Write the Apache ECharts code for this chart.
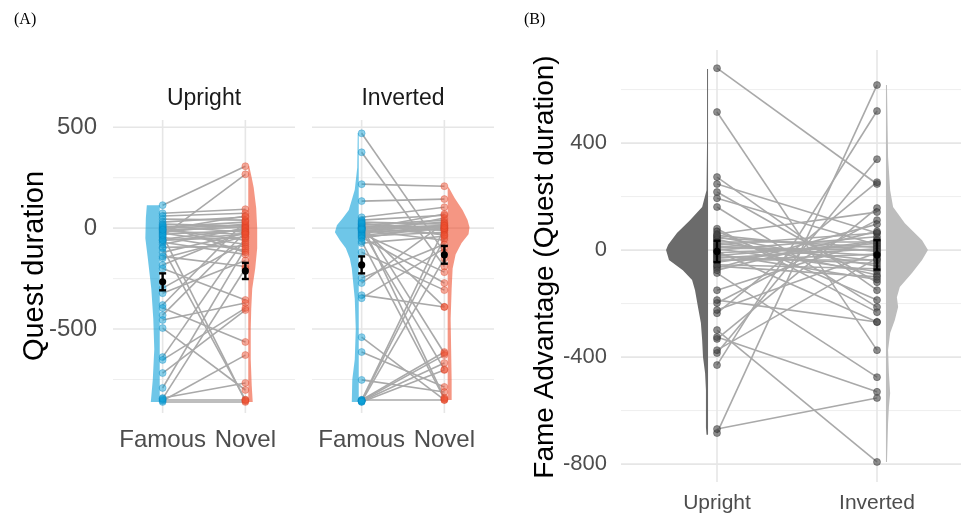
<!DOCTYPE html>
<html>
<head>
<meta charset="utf-8">
<script src="https://cdn.jsdelivr.net/npm/echarts@6/dist/echarts.min.js"></script>
<style>
  html, body { margin: 0; padding: 0; background: #fff; }
  #chart { width: 961px; height: 516px; }
</style>
</head>
<body>
<div id="chart"></div>
<script>
// ---- data ----
const facetNames = ['Upright', 'Inverted'];
const faceNames = ['Famous', 'Novel'];

// panel A: one value per participant, Famous and Novel in the same order
const uprightFamous = [114, -40, 74, 60, 45, 30, 20, 10, 5, 0, -5, -10, -15, -20, -25, -30, -45, -55, -60, -70,
  -80, -95, -120, -149, -183, -200, -297, -322, -381, -396, -431, -455, -495, -639, -653, -718, -792, -842, -850, -861,
  -855, -845, -100, -140, -60, 15, -35, -8];
const uprightNovel = [307, 267, 94, 74, 40, 55, 10, -20, 30, 15, -60, 5, -30, 20, -80, -10, -110, -5, -45, -130,
  0, -90, -25, -40, -15, -356, -70, -160, 35, -564, -20, -371, -802, -50, -396, -406, -100, -767, -850, -861,
  -629, -200, -851, -190, -30, -120, -856, 60];
const invertedFamous = [470, 376, 218, 134, 54, 40, 30, 20, 15, 10, 5, 0, 0, -5, -10, -15, -20, -25, -30, -40,
  -45, -74, -119, -247, -272, -332, -347, -540, -614, -752, -851, -855, -858, -861, -851, -856, -853, -860, 20, 35,
  -10, 0, 5, -35, -50, 25, -5, -65];
const invertedNovel = [-120, -190, 208, 144, 104, 64, 20, 0, 40, -10, 10, 30, -30, 5, -60, 15, -5, -218, 50, -20,
  -272, -40, -307, -80, 25, -391, -100, -851, -787, -812, -614, -629, -668, -703, -851, -50, 0, -150, -840, -620,
  -700, -390, -10, 0, 12, -35, 70, -845];

const uprightMeans = [-266, -212];
const uprightSE = [42, 40];
const invertedMeans = [-182, -132];
const invertedSE = [42, 44];

// violin outlines: value levels and relative half widths
const upFamViolinY = [114, 50, -50, -150, -300, -450, -600, -750, -861];
const upFamViolinW = [0.52, 0.56, 0.58, 0.48, 0.34, 0.26, 0.22, 0.28, 0.36];
const upNovViolinY = [307, 250, 200, 100, 0, -100, -200, -300, -400, -500, -650, -780, -861];
const upNovViolinW = [0.04, 0.14, 0.22, 0.32, 0.36, 0.36, 0.28, 0.16, 0.12, 0.1, 0.1, 0.14, 0.18];
const invFamViolinY = [470, 300, 190, 90, 50, 15, -20, -60, -100, -150, -200, -350, -500, -650, -750, -861];
const invFamViolinW = [0.04, 0.06, 0.16, 0.4, 0.64, 0.88, 0.96, 0.76, 0.52, 0.36, 0.28, 0.16, 0.12, 0.16, 0.26, 0.28];
const invNovViolinY = [203, 150, 90, 40, 5, -30, -74, -130, -200, -300, -450, -600, -750, -851];
const invNovViolinW = [0.04, 0.28, 0.6, 0.8, 0.88, 0.84, 0.56, 0.32, 0.2, 0.16, 0.12, 0.14, 0.16, 0.16];

// panel B: fame advantage per participant
const advUpright = [680, 516, 273, 247, 217, 194, 161, -684, -669, -299, -430, -385, -374, -332, -325, -236, -224, -198, -187, -150,
  -86, -67, 80, 70, 60, 50, 45, 40, 30, 25, 20, 15, 10, 5, 0, -5, -10, -15, -20, -25,
  -30, -40, -45, -55, -60, -75, 55, -35];
const advInverted = [247, -374, -150, 64, -120, 20, -213, 617, -553, -792, 520, 340, -30, 157, -530, 254, -10, 112, -269, 40,
  -475, 97, -232, -187, 142, -60, 10, -93, 30, -40, 64, -20, 0, -80, 50, -269, 15, -110, 25, -50,
  5, -15, 35, -70, -100, 70, -5, -35];
const advMeans = [-5, -18];
const advSE = [40, 55];

const advUpViolinY = [677, 400, 224, 161, 112, 64, 20, 0, -37, -75, -112, -150, -213, -273, -336, -400, -460, -523, -587, -662, -690];
const advUpViolinW = [0.024, 0.024, 0.036, 0.14, 0.43, 0.74, 0.95, 1.0, 0.93, 0.6, 0.38, 0.31, 0.24, 0.17, 0.14, 0.12, 0.07, 0.05, 0.05, 0.05, 0.036];
const advInvViolinY = [617, 348, 224, 161, 100, 37, 0, -37, -86, -138, -176, -213, -262, -310, -374, -460, -535, -587, -647, -792];
const advInvViolinW = [0.024, 0.05, 0.1, 0.17, 0.45, 0.86, 1.0, 0.86, 0.62, 0.33, 0.26, 0.29, 0.21, 0.1, 0.05, 0.07, 0.1, 0.07, 0.05, 0.024];

const ticksA = [-500, 0, 500];
const minorA = [-750, -250, 250];
const ticksB = [-800, -400, 0, 400];
const minorB = [-600, -200, 200, 600];

// ---- chart ----
const font = "'Liberation Sans', Arial, sans-serif";
const blue = 'rgba(14,160,216,0.6)';
const orange = 'rgba(238,80,48,0.6)';

const chart = echarts.init(document.getElementById('chart'));

function gridLines(idx, xs, major, minor) {
  return {
    type: 'custom', xAxisIndex: idx, yAxisIndex: idx, silent: true, z: 0,
    data: [[xs[0], major[0]]],
    renderItem: function (params, api) {
      const cs = params.coordSys;
      const kids = [];
      minor.forEach(function (v) {
        const y = api.coord([xs[0], v])[1];
        kids.push({ type: 'line', shape: { x1: cs.x, y1: y, x2: cs.x + cs.width, y2: y }, style: { stroke: '#ececec', lineWidth: 0.9 } });
      });
      major.forEach(function (v) {
        const y = api.coord([xs[0], v])[1];
        kids.push({ type: 'line', shape: { x1: cs.x, y1: y, x2: cs.x + cs.width, y2: y }, style: { stroke: '#e6e6e6', lineWidth: 1.6 } });
      });
      xs.forEach(function (v) {
        const x = api.coord([v, major[0]])[0];
        kids.push({ type: 'line', shape: { x1: x, y1: cs.y, x2: x, y2: cs.y + cs.height }, style: { stroke: '#e6e6e6', lineWidth: 1.6 } });
      });
      return { type: 'group', children: kids };
    }
  };
}

function violin(idx, xc, side, offset, ys, ws, scale, color) {
  return {
    type: 'custom', xAxisIndex: idx, yAxisIndex: idx, silent: true, z: 1,
    data: [[xc, ys[0]]],
    renderItem: function (params, api) {
      const edge = xc + side * offset;
      const pts = [];
      for (let i = 0; i < ys.length; i++) pts.push(api.coord([edge + side * ws[i] * scale, ys[i]]));
      for (let i = ys.length - 1; i >= 0; i--) pts.push(api.coord([edge, ys[i]]));
      return { type: 'polygon', shape: { points: pts }, style: { fill: color } };
    }
  };
}

function pairLines(idx, a, b) {
  return {
    type: 'lines', coordinateSystem: 'cartesian2d', xAxisIndex: idx, yAxisIndex: idx, silent: true, z: 2,
    data: a.map(function (v, i) { return { coords: [[1, v], [2, b[i]]] }; }),
    lineStyle: { color: '#a9a9a9', width: 1.6, opacity: 1 }
  };
}

function dots(idx, x, vals, color, border, size) {
  return {
    type: 'scatter', xAxisIndex: idx, yAxisIndex: idx, silent: true, z: 3,
    symbolSize: size,
    data: vals.map(function (v) { return [x, v]; }),
    itemStyle: { color: color, borderColor: border, borderWidth: 0.8 }
  };
}

function meanBars(idx, means, se) {
  return {
    type: 'custom', xAxisIndex: idx, yAxisIndex: idx, silent: true, z: 4,
    data: means.map(function (m, i) { return [i + 1, m, se[i]]; }),
    renderItem: function (params, api) {
      const x = api.value(0), m = api.value(1), s = api.value(2);
      const c = api.coord([x, m]);
      const top = api.coord([x, m + s]);
      const bot = api.coord([x, m - s]);
      const st = { stroke: '#000', lineWidth: 2.4 };
      return {
        type: 'group',
        children: [
          { type: 'line', shape: { x1: c[0], y1: top[1], x2: c[0], y2: bot[1] }, style: st },
          { type: 'line', shape: { x1: c[0] - 3.5, y1: top[1], x2: c[0] + 3.5, y2: top[1] }, style: st },
          { type: 'line', shape: { x1: c[0] - 3.5, y1: bot[1], x2: c[0] + 3.5, y2: bot[1] }, style: st },
          { type: 'circle', shape: { cx: c[0], cy: c[1], r: 3.6 }, style: { fill: '#000' } }
        ]
      };
    }
  };
}

function xAxisCfg(idx, names, max, margin, size) {
  return {
    type: 'value', gridIndex: idx, min: 0.4, max: max,
    axisLine: { show: false }, axisTick: { show: false }, splitLine: { show: false },
    axisLabel: {
      customValues: [1, 2], margin: margin, fontSize: size, fontFamily: font, color: '#4d4d4d',
      formatter: function (v) { return names[Math.round(v) - 1]; }
    }
  };
}

function yAxisCfg(idx, min, max, ticks, showLabels, margin, size) {
  return {
    type: 'value', gridIndex: idx, min: min, max: max,
    axisLine: { show: false }, axisTick: { show: false }, splitLine: { show: false },
    axisLabel: { show: showLabels, customValues: ticks, margin: margin, fontSize: size, fontFamily: font, color: '#4d4d4d' }
  };
}

const scaleA = 0.30;
const scaleB = 0.2625;

const option = {
  animation: false,
  backgroundColor: '#fff',
  grid: [
    { left: 113, top: 120, width: 182, height: 293 },
    { left: 312, top: 120, width: 182, height: 293 },
    { left: 621, top: 50, width: 340, height: 432 }
  ],
  xAxis: [
    xAxisCfg(0, faceNames, 2.6, 15, 24),
    xAxisCfg(1, faceNames, 2.6, 15, 24),
    xAxisCfg(2, facetNames, 2.525, 11, 21)
  ],
  yAxis: [
    yAxisCfg(0, -916, 536, ticksA, true, 16, 24),
    yAxisCfg(1, -916, 536, ticksA, false, 16, 24),
    yAxisCfg(2, -867, 748, ticksB, true, 14, 22)
  ],
  graphic: [
    { type: 'text', x: 14, y: 20, style: { text: '(A)', fontFamily: "'Liberation Serif', 'DejaVu Serif', serif", fontSize: 16, fill: '#000', verticalAlign: 'middle' } },
    { type: 'text', x: 524, y: 20, style: { text: '(B)', fontFamily: "'Liberation Serif', 'DejaVu Serif', serif", fontSize: 16, fill: '#000', verticalAlign: 'middle' } },
    { type: 'text', x: 204, y: 99, style: { text: facetNames[0], fontFamily: font, fontSize: 23, fill: '#1a1a1a', align: 'center', verticalAlign: 'middle' } },
    { type: 'text', x: 403, y: 99, style: { text: facetNames[1], fontFamily: font, fontSize: 23, fill: '#1a1a1a', align: 'center', verticalAlign: 'middle' } },
    { type: 'text', x: 35, y: 266, rotation: Math.PI / 2, style: { text: 'Quest duration', fontFamily: font, fontSize: 29, fill: '#000', align: 'center', verticalAlign: 'middle' } },
    { type: 'text', x: 545, y: 267, rotation: Math.PI / 2, style: { text: 'Fame Advantage (Quest duration)', fontFamily: font, fontSize: 28, fill: '#000', align: 'center', verticalAlign: 'middle' } }
  ],
  series: [
    gridLines(0, [1, 2], ticksA, minorA),
    gridLines(1, [1, 2], ticksA, minorA),
    gridLines(2, [1, 2], ticksB, minorB),

    violin(0, 1, -1, 0.035, upFamViolinY, upFamViolinW, scaleA, blue),
    violin(0, 2, 1, 0.035, upNovViolinY, upNovViolinW, scaleA, orange),
    violin(1, 1, -1, 0.035, invFamViolinY, invFamViolinW, scaleA, blue),
    violin(1, 2, 1, 0.04, invNovViolinY, invNovViolinW, scaleA, orange),
    violin(2, 1, -1, 0.056, advUpViolinY, advUpViolinW, scaleB, '#6b6b6b'),
    violin(2, 2, 1, 0.056, advInvViolinY, advInvViolinW, scaleB, '#bdbdbd'),

    pairLines(0, uprightFamous, uprightNovel),
    pairLines(1, invertedFamous, invertedNovel),
    pairLines(2, advUpright, advInverted),

    dots(0, 1, uprightFamous, blue, 'rgba(0,130,190,0.5)', 7),
    dots(0, 2, uprightNovel, orange, 'rgba(210,60,30,0.5)', 7),
    dots(1, 1, invertedFamous, blue, 'rgba(0,130,190,0.5)', 7),
    dots(1, 2, invertedNovel, orange, 'rgba(210,60,30,0.5)', 7),
    dots(2, 1, advUpright, 'rgba(70,70,70,0.75)', 'rgba(40,40,40,0.6)', 7),
    dots(2, 2, advInverted, 'rgba(70,70,70,0.75)', 'rgba(40,40,40,0.6)', 7),

    meanBars(0, uprightMeans, uprightSE),
    meanBars(1, invertedMeans, invertedSE),
    meanBars(2, advMeans, advSE)
  ]
};

chart.setOption(option);
</script>
</body>
</html>
